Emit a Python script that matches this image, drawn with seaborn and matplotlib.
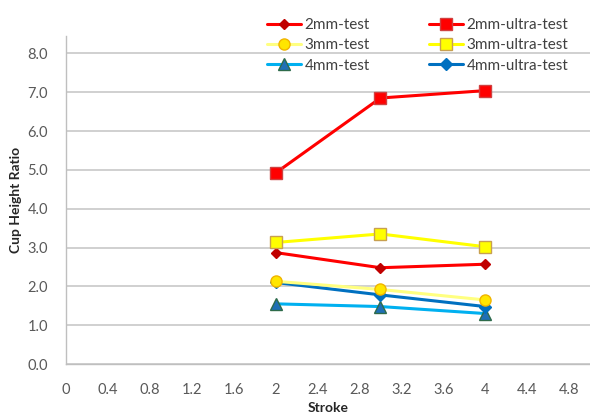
import matplotlib
matplotlib.use("Agg")
import matplotlib.pyplot as plt
import seaborn as sns
import pandas as pd
import numpy as np

strokes = [2, 3, 4]
series_names = ["2mm-test", "3mm-test", "4mm-test",
                "2mm-ultra-test", "3mm-ultra-test", "4mm-ultra-test"]
v_2mm_test = [2.87, 2.48, 2.57]
v_3mm_test = [2.13, 1.92, 1.65]
v_4mm_test = [1.55, 1.48, 1.30]
v_2mm_ultra = [4.92, 6.85, 7.04]
v_3mm_ultra = [3.13, 3.35, 3.02]
v_4mm_ultra = [2.10, 1.78, 1.48]
values = [v_2mm_test, v_3mm_test, v_4mm_test, v_2mm_ultra, v_3mm_ultra, v_4mm_ultra]

x_ticks = [0, 0.4, 0.8, 1.2, 1.6, 2, 2.4, 2.8, 3.2, 3.6, 4, 4.4, 4.8]
x_tick_labels = ["0", "0.4", "0.8", "1.2", "1.6", "2", "2.4", "2.8", "3.2", "3.6", "4", "4.4", "4.8"]
y_ticks = [0, 1, 2, 3, 4, 5, 6, 7, 8]
y_tick_labels = ["0.0", "1.0", "2.0", "3.0", "4.0", "5.0", "6.0", "7.0", "8.0"]

styles = {
    "2mm-test": dict(color="#FF0000", marker="D", ms=5, mfc="#C00000", mec="#C00000"),
    "3mm-test": dict(color="#FFFF80", marker="o", ms=8, mfc="#FFE600", mec="#F0B400"),
    "4mm-test": dict(color="#00B0F0", marker="^", ms=8, mfc="#1F6FB5", mec="#2E6B4A"),
    "2mm-ultra-test": dict(color="#FF0000", marker="s", ms=8.5, mfc="#FF0000", mec="#D04040"),
    "3mm-ultra-test": dict(color="#FFFF00", marker="s", ms=8.5, mfc="#FFFF00", mec="#C8A050"),
    "4mm-ultra-test": dict(color="#0070C0", marker="D", ms=6, mfc="#0070C0", mec="#0070C0"),
}

rows = []
for name, vals in zip(series_names, values):
    for s, v in zip(strokes, vals):
        rows.append({"Stroke": s, "Ratio": v, "Series": name})
df = pd.DataFrame(rows)

sns.set_style("white")
plt.rcParams["font.family"] = ["Lato", "DejaVu Sans"]

fig = plt.figure(figsize=(5.9, 4.17), dpi=100)
ax = fig.add_axes([0.112, 0.127, 0.888, 0.787])

draw_order = ["4mm-test", "4mm-ultra-test", "3mm-test", "2mm-test", "3mm-ultra-test", "2mm-ultra-test"]
for name in draw_order:
    st = styles[name]
    sub = df[df["Series"] == name]
    sns.lineplot(data=sub, x="Stroke", y="Ratio", ax=ax, color=st["color"], lw=2.2,
                 marker=st["marker"], markersize=st["ms"], markerfacecolor=st["mfc"],
                 markeredgecolor=st["mec"], markeredgewidth=1.0, label=name, zorder=3)

h, l = ax.get_legend_handles_labels()
hd = dict(zip(l, h))
if ax.get_legend() is not None:
    ax.get_legend().remove()

ax.set_xlim(0, 5.0)
ax.set_ylim(0, 8.45)
ax.set_xticks(x_ticks)
ax.set_xticklabels(x_tick_labels)
ax.set_yticks(y_ticks)
ax.set_yticklabels(y_tick_labels)
ax.yaxis.grid(True, color="#C8C8C8", lw=1.2)
ax.set_axisbelow(True)
for sp in ["top", "right"]:
    ax.spines[sp].set_visible(False)
for sp in ["left", "bottom"]:
    ax.spines[sp].set_color("#BFBFBF")
    ax.spines[sp].set_linewidth(1.0)
ax.tick_params(axis="both", which="both", length=4, width=1, color="#BFBFBF",
               labelcolor="#595959", labelsize=10.5, direction="out")
ax.tick_params(axis="x", pad=10)
ax.tick_params(axis="y", pad=9)
ax.set_xlabel("Stroke", fontweight="bold", fontsize=10, color="#262626", labelpad=3)
ax.set_ylabel("Cup Height Ratio", fontweight="bold", fontsize=10, color="#262626", labelpad=4)

order = series_names
leg = fig.legend([hd[n] for n in order], order, ncol=2, loc="upper left",
                 bbox_to_anchor=(267 / 590, 1 - 18 / 417), frameon=False, fontsize=11,
                 handlelength=2.2, columnspacing=3.9, handletextpad=0.25,
                 labelspacing=0.42, borderpad=0, borderaxespad=0, labelcolor="#404040")

fig.savefig("out.png", dpi=100, facecolor="white")
